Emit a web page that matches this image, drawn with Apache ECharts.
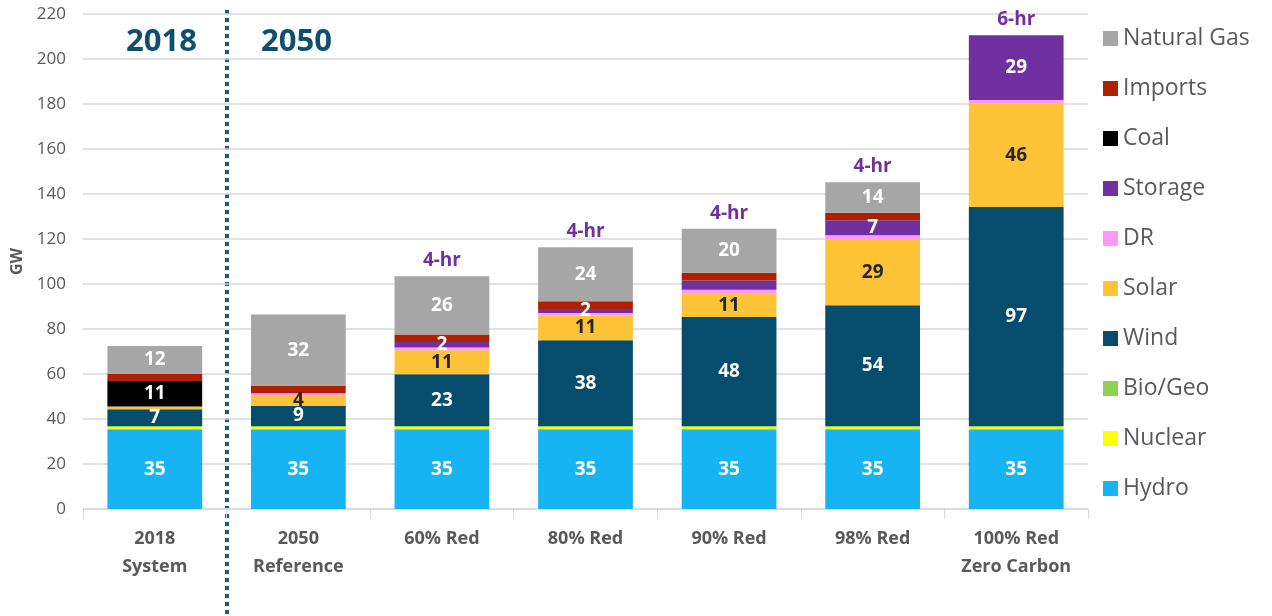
<!DOCTYPE html>
<html>
<head>
<meta charset="utf-8">
<script src="https://cdn.jsdelivr.net/npm/echarts@6/dist/echarts.min.js"></script>
<style>
  html, body { margin: 0; padding: 0; background: #fff; }
  #chart { width: 1272px; height: 616px; }
</style>
</head>
<body>
<div id="chart"></div>
<script>
  // categories and GW values per resource (stack order bottom -> top)
  const categories = ['2018\nSystem', '2050\nReference', '60% Red', '80% Red', '90% Red', '98% Red', '100% Red\nZero Carbon'];
  const hydro   = [35.4, 35.4, 35.4, 35.4, 35.4, 35.4, 35.4];
  const nuclear = [1.1, 1.1, 1.1, 1.1, 1.1, 1.1, 1.1];
  const bioGeo  = [0.4, 0.4, 0.4, 0.4, 0.4, 0.4, 0.4];
  const wind    = [7.4, 9.0, 23.0, 38.1, 48.4, 53.7, 97.3];
  const solar   = [1.3, 4.4, 10.7, 10.9, 10.6, 29.3, 46.0];
  const dr      = [0, 1.2, 1.2, 1.2, 1.5, 1.8, 1.6];
  const storage = [0, 0, 2.4, 1.8, 4.2, 6.6, 28.8];
  const coal    = [11.3, 0, 0, 0, 0, 0, 0];
  const imports = [3.2, 3.2, 3.4, 3.4, 3.4, 3.4, 0];
  const gas     = [12.3, 31.7, 25.9, 24.0, 19.6, 13.5, 0];
  const storageHours = ['', '', '4-hr', '4-hr', '4-hr', '4-hr', '6-hr'];

  const resources = [
    { name: 'Hydro', data: hydro, color: '#17B4F3', label: '#fff' },
    { name: 'Nuclear', data: nuclear, color: '#FFFF00' },
    { name: 'Bio/Geo', data: bioGeo, color: '#92D050' },
    { name: 'Wind', data: wind, color: '#064C6C', label: '#fff' },
    { name: 'Solar', data: solar, color: '#FFC337', label: '#262626' },
    { name: 'DR', data: dr, color: '#FF99F8' },
    { name: 'Storage', data: storage, color: '#7030A0', label: '#fff', skip: [4] },
    { name: 'Coal', data: coal, color: '#000000', label: '#fff' },
    { name: 'Imports', data: imports, color: '#B02000' },
    { name: 'Natural Gas', data: gas, color: '#A6A6A6', label: '#fff' }
  ];

  const font = '"Open Sans", "Noto Sans", sans-serif';
  const chart = echarts.init(document.getElementById('chart'));

  const series = resources.map(r => ({
    name: r.name,
    type: 'bar',
    stack: 'total',
    barWidth: '66%',
    itemStyle: { color: r.color },
    label: {
      show: !!r.label,
      color: r.label,
      fontSize: 19,
      fontWeight: 'bold',
      fontFamily: font,
      formatter: p => {
        if (p.value < 1.5) return '';
        if (r.skip && r.skip.indexOf(p.dataIndex) >= 0) return '';
        return Math.round(p.value);
      }
    },
    data: r.data
  }));

  // storage duration text above the stacks
  series.push({
    name: 'hours',
    type: 'bar',
    stack: 'total',
    barWidth: '66%',
    itemStyle: { color: 'transparent' },
    label: {
      show: true,
      position: 'top',
      distance: 6,
      color: '#7030A0',
      fontSize: 19,
      fontWeight: 'bold',
      fontFamily: font,
      formatter: p => storageHours[p.dataIndex]
    },
    data: storageHours.map(h => h ? 0 : '-')
  });

  chart.setOption({
    animation: false,
    textStyle: { fontFamily: font },
    grid: { left: 83, right: 184, top: 14, bottom: 107 },
    legend: {
      orient: 'vertical',
      left: 1098,
      top: 22,
      itemWidth: 15,
      itemHeight: 15,
      itemGap: 27,
      icon: 'rect',
      data: resources.map(r => r.name).reverse(),
      textStyle: { fontSize: 23, color: '#595959', fontFamily: font, padding: [0, 0, 0, 0] }
    },
    xAxis: {
      type: 'category',
      data: categories,
      axisLine: { lineStyle: { color: '#D9D9D9', width: 1.5 } },
      axisTick: { show: true, length: 10, lineStyle: { color: '#D9D9D9' } },
      axisLabel: { color: '#595959', fontSize: 18, fontWeight: 'bold', lineHeight: 28, margin: 16, fontFamily: font }
    },
    yAxis: {
      type: 'value',
      min: 0,
      max: 220,
      interval: 20,
      name: 'GW',
      nameLocation: 'middle',
      nameGap: 58,
      nameTextStyle: { color: '#595959', fontSize: 16, fontWeight: 'bold', fontFamily: font },
      axisLabel: { color: '#595959', fontSize: 17, margin: 17, fontFamily: font },
      splitLine: { lineStyle: { color: '#D9D9D9', width: 1.5 } }
    },
    graphic: [
      {
        type: 'line',
        shape: { x1: 227, y1: 10, x2: 227, y2: 616 },
        style: { stroke: '#1B5C7C', lineWidth: 4, lineDash: [4, 4] }
      },
      {
        type: 'text', left: 126, top: 27,
        style: { text: '2018', fill: '#0F4F6E', fontSize: 31, fontWeight: 'bold', fontFamily: font }
      },
      {
        type: 'text', left: 261, top: 27,
        style: { text: '2050', fill: '#0F4F6E', fontSize: 31, fontWeight: 'bold', fontFamily: font }
      }
    ],
    series: series
  });
</script>
</body>
</html>
